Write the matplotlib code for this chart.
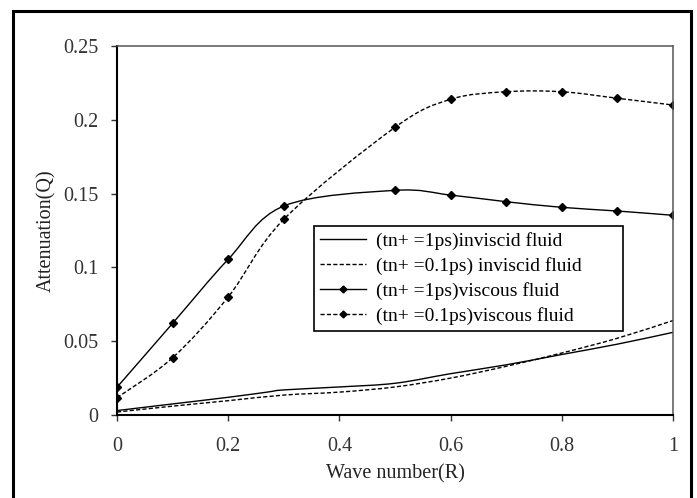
import matplotlib.pyplot as plt
import numpy as np
from matplotlib.path import Path
from matplotlib.patches import PathPatch, Rectangle
from matplotlib.lines import Line2D

# values
wave_inv = [0.0, 0.1, 0.2, 0.27, 0.3, 0.4, 0.5, 0.6, 0.7, 0.8, 0.9, 1.0]
inv_1ps = [0.003, 0.0075, 0.012, 0.0155, 0.017, 0.019, 0.0215, 0.028, 0.034, 0.041, 0.048, 0.056]
wave_inv2 = [0.0, 0.1, 0.2, 0.3, 0.4, 0.5, 0.6, 0.7, 0.8, 0.9, 1.0]
inv_01ps = [0.002, 0.006, 0.0097, 0.0135, 0.0155, 0.019, 0.025, 0.033, 0.042, 0.052, 0.064]

wave_visc = [0.0, 0.1, 0.2, 0.3, 0.5, 0.6, 0.7, 0.8, 0.9, 1.0]
visc_1ps = [0.0188, 0.0621, 0.1055, 0.1416, 0.1522, 0.149, 0.1445, 0.1407, 0.1382, 0.1353]
visc_01ps = [0.0117, 0.0388, 0.080, 0.1326, 0.1949, 0.2139, 0.219, 0.219, 0.2146, 0.210]

labels = ["(tn+ =1ps)inviscid fluid",
          "(tn+ =0.1ps) inviscid fluid",
          "(tn+ =1ps)viscous fluid",
          "(tn+ =0.1ps)viscous fluid"]

plt.rcParams['font.family'] = ['Liberation Serif', 'DejaVu Serif']


def smooth_path(xs, ys):
    # Excel-like smoothed line: Catmull-Rom segments as cubic Beziers
    p = np.column_stack([xs, ys])
    verts = [p[0]]
    codes = [Path.MOVETO]
    n = len(p)
    for i in range(n - 1):
        p0 = p[i - 1] if i > 0 else p[i]
        p3 = p[i + 2] if i + 2 < n else p[i + 1]
        c1 = p[i] + (p[i + 1] - p0) / 6
        c2 = p[i + 1] - (p3 - p[i]) / 6
        verts += [c1, c2, p[i + 1]]
        codes += [Path.CURVE4] * 3
    return Path(verts, codes)


dash = (0, (3.0, 1.6))

fig = plt.figure(figsize=(6.97, 4.98), dpi=100)
ax = fig.add_axes([117 / 697, 83 / 498, 556 / 697, 369 / 498])

series = [
    (wave_inv, inv_1ps, '-', False),
    (wave_inv2, inv_01ps, dash, False),
    (wave_visc, visc_1ps, '-', True),
    (wave_visc, visc_01ps, dash, True),
]
handles = []
for (xs, ys, ls, mark), lab in zip(series, labels):
    ax.add_patch(PathPatch(smooth_path(xs, ys), facecolor='none',
                           edgecolor='black', linewidth=1.0, linestyle=ls))
    if mark:
        ax.plot(xs, ys, linestyle='none', marker='D', markersize=4.5,
                color='black')
    handles.append(Line2D([], [], color='black', linewidth=1.0, linestyle=ls,
                          marker='D' if mark else None, markersize=3.5))

ax.set_xlim(0, 1)
ax.set_ylim(0, 0.25)
ax.set_xticks([0, 0.2, 0.4, 0.6, 0.8, 1])
ax.set_xticklabels(['0', '0.2', '0.4', '0.6', '0.8', '1'])
ax.set_yticks([0, 0.05, 0.1, 0.15, 0.2, 0.25])
ax.set_yticklabels(['0', '0.05', '0.1', '0.15', '0.2', '0.25'])
ax.tick_params(direction='out', length=4.5, width=1, labelsize=14.5,
               colors='#333333')
ax.tick_params(axis='y', pad=9)
ax.tick_params(axis='x', pad=11)

for side in ['top', 'right']:
    ax.spines[side].set_color('#555555')
    ax.spines[side].set_linewidth(1.1)
for side in ['left', 'bottom']:
    ax.spines[side].set_color('black')
    ax.spines[side].set_linewidth(1.5)

ax.set_xlabel("Wave number(R)", fontsize=14.5, color='#222222', labelpad=6)
ax.set_ylabel("Attenuation(Q)", fontsize=14.5, color='#222222', labelpad=5)

leg = ax.legend(handles, labels, loc='upper left',
                bbox_to_anchor=(0.354, 0.512 - 0.3, 0.556, 0.3),
                mode='expand', borderaxespad=0,
                fontsize=14, handlelength=2.4, handletextpad=0.5,
                labelspacing=0.37, borderpad=0.3, fancybox=False,
                framealpha=1, edgecolor='black')
leg.get_frame().set_linewidth(1.2)

# outer border around the chart area
fig.patches.append(Rectangle((13 / 697, -0.02), 678 / 697, 487 / 498 + 0.02,
                             transform=fig.transFigure, fill=False,
                             edgecolor='black', linewidth=2.2))

plt.savefig("out.png", dpi=100)
plt.close()
